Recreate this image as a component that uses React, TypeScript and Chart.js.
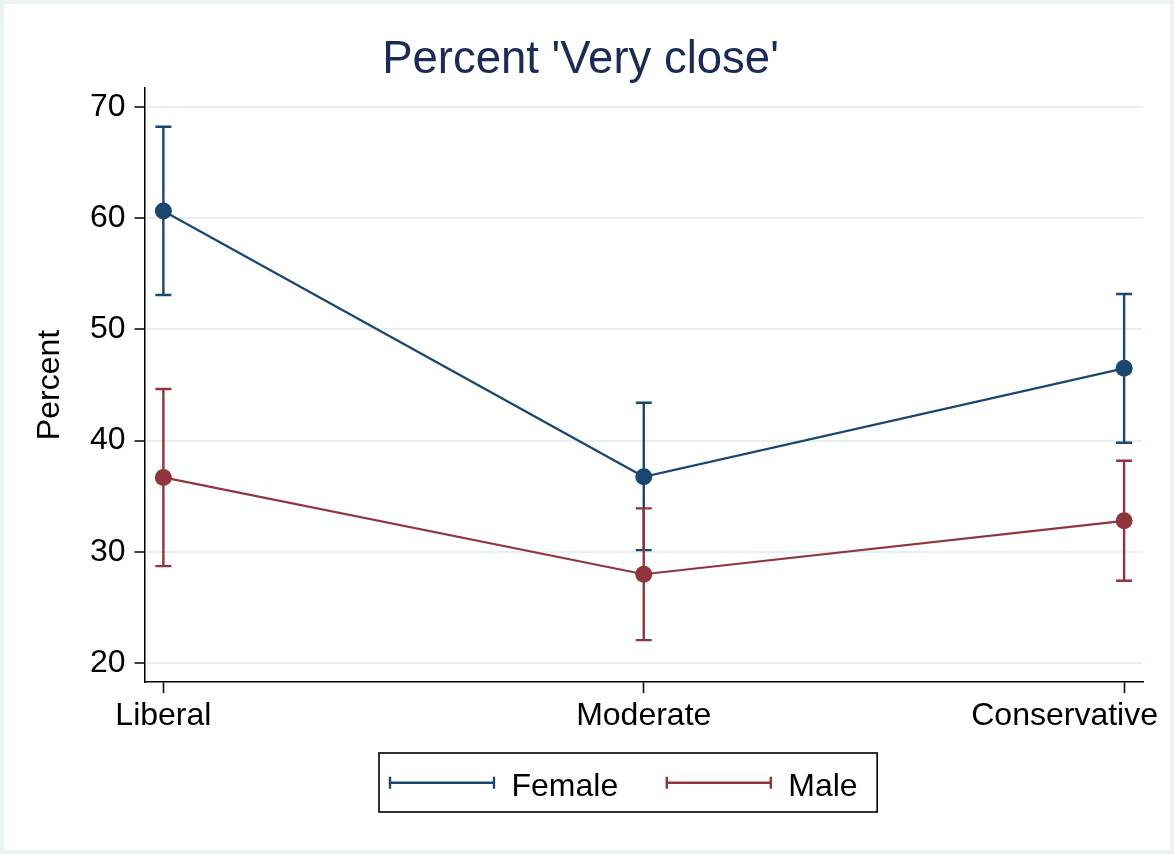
import React, { useEffect, useRef } from "react";
import { Chart, registerables } from "chart.js";

Chart.register(...registerables);

// ---- Data ----
const categories = ["Liberal", "Moderate", "Conservative"];
const seriesNames = ["Female", "Male"];
const femaleMean = [60.63, 36.76, 46.5];
const femaleLower = [53.08, 30.17, 39.81];
const femaleUpper = [68.2, 43.4, 53.17];
const maleMean = [36.7, 28.0, 32.8];
const maleLower = [28.73, 22.08, 27.41];
const maleUpper = [44.64, 33.92, 38.2];
const yTicks = [20, 30, 40, 50, 60, 70];
const chartTitle = "Percent 'Very close'";
const yTitle = "Percent";

// ---- Style ----
const FONT = "'Liberation Sans', Arial, Helvetica, sans-serif";
const NAVY = "#1a476f";
const MAROON = "#90353b";
const GRID = "#e7eff1";
const TITLE_COLOR = "#1b2a56";
const W = 1166;
const H = 846;

const seriesColors = [NAVY, MAROON];
const lowers = [femaleLower, maleLower];
const uppers = [femaleUpper, maleUpper];

const errorBarPlugin = {
  id: "errorBars",
  beforeDatasetsDraw(chart: any) {
    const ctx = chart.ctx;
    const xs = chart.scales.x;
    const ys = chart.scales.y;
    ctx.save();
    for (let s = 0; s < 2; s++) {
      ctx.strokeStyle = seriesColors[s];
      ctx.lineWidth = 2.4;
      ctx.lineCap = "butt";
      for (let i = 0; i < categories.length; i++) {
        const x = xs.getPixelForValue(i);
        const yl = ys.getPixelForValue(lowers[s][i]);
        const yu = ys.getPixelForValue(uppers[s][i]);
        ctx.beginPath();
        ctx.moveTo(x, yl);
        ctx.lineTo(x, yu);
        ctx.moveTo(x - 8, yl);
        ctx.lineTo(x + 8, yl);
        ctx.moveTo(x - 8, yu);
        ctx.lineTo(x + 8, yu);
        ctx.stroke();
      }
    }
    ctx.restore();
  },
};

const decorPlugin = {
  id: "decor",
  afterDraw(chart: any) {
    const ctx = chart.ctx;
    const xs = chart.scales.x;
    ctx.save();
    // Title
    ctx.fillStyle = TITLE_COLOR;
    ctx.font = `45.5px ${FONT}`;
    ctx.textAlign = "center";
    ctx.textBaseline = "alphabetic";
    ctx.fillText(chartTitle, 576.5, 69);

    // X tick labels (kept inside the graph region)
    ctx.fillStyle = "#000";
    ctx.font = `32px ${FONT}`;
    for (let i = 0; i < categories.length; i++) {
      const label = categories[i];
      const w = ctx.measureText(label).width;
      let cx = xs.getPixelForValue(i);
      if (cx + w / 2 > W - 12) cx = W - 12 - w / 2;
      ctx.textAlign = "center";
      ctx.fillText(label, cx, 721);
    }

    // Legend
    ctx.font = `32px ${FONT}`;
    ctx.textAlign = "left";
    const boxLeft = 375;
    const boxTop = 749;
    const boxBottom = 808;
    const symY = 778.7;
    const textY = 792;
    let x = boxLeft + 11;
    for (let s = 0; s < seriesNames.length; s++) {
      ctx.strokeStyle = seriesColors[s];
      ctx.lineWidth = 2.4;
      ctx.beginPath();
      ctx.moveTo(x, symY);
      ctx.lineTo(x + 104, symY);
      ctx.moveTo(x, symY - 6);
      ctx.lineTo(x, symY + 6);
      ctx.moveTo(x + 104, symY - 6);
      ctx.lineTo(x + 104, symY + 6);
      ctx.stroke();
      x += 104 + 17.5;
      ctx.fillStyle = "#000";
      ctx.fillText(seriesNames[s], x, textY);
      x += ctx.measureText(seriesNames[s]).width;
      if (s < seriesNames.length - 1) x += 48.6;
    }
    const boxRight = x + 19.5;
    ctx.strokeStyle = "#000";
    ctx.lineWidth = 1.6;
    ctx.strokeRect(boxLeft, boxTop, boxRight - boxLeft, boxBottom - boxTop);
    ctx.restore();
  },
};

export default function App() {
  const canvasRef = useRef<HTMLCanvasElement | null>(null);

  useEffect(() => {
    document.body.style.margin = "0";
    const canvas = canvasRef.current;
    if (!canvas) return;
    Chart.defaults.font.family = FONT;

    const chart = new Chart(canvas, {
      type: "line",
      data: {
        datasets: [
          {
            label: seriesNames[0],
            data: femaleMean.map((v, i) => ({ x: i, y: v })),
            borderColor: NAVY,
            backgroundColor: NAVY,
            borderWidth: 2.2,
            pointRadius: 8.5,
            pointBorderWidth: 0,
            pointBackgroundColor: NAVY,
            tension: 0,
          },
          {
            label: seriesNames[1],
            data: maleMean.map((v, i) => ({ x: i, y: v })),
            borderColor: MAROON,
            backgroundColor: MAROON,
            borderWidth: 2.2,
            pointRadius: 8.5,
            pointBorderWidth: 0,
            pointBackgroundColor: MAROON,
            tension: 0,
          },
        ],
      },
      options: {
        responsive: false,
        animation: false,
        devicePixelRatio: 1,
        layout: { padding: { left: 30.5, top: 84, right: 27, bottom: 108 } },
        plugins: {
          legend: { display: false },
          title: { display: false },
          tooltip: { enabled: false },
        },
        scales: {
          x: {
            type: "linear",
            min: -0.0393,
            max: 2.0393,
            afterBuildTicks: (s: any) => {
              s.ticks = categories.map((_, i) => ({ value: i }));
            },
            afterFit: (s: any) => {
              s.height = 60;
            },
            grid: {
              drawOnChartArea: false,
              drawTicks: true,
              tickLength: 11,
              tickColor: "#000",
              tickWidth: 1.5,
            },
            border: { display: true, color: "#000", width: 1.5 },
            ticks: { display: false },
          },
          y: {
            type: "linear",
            min: 18.32,
            max: 71.68,
            afterBuildTicks: (s: any) => {
              s.ticks = yTicks.map((v) => ({ value: v }));
            },
            afterFit: (s: any) => {
              s.width = 110;
            },
            grid: {
              color: GRID,
              lineWidth: 2,
              drawTicks: true,
              tickLength: 10,
              tickColor: "#000",
              tickWidth: 1.5,
            },
            border: { display: true, color: "#000", width: 1.5 },
            ticks: {
              color: "#000",
              padding: 9,
              font: { size: 32, family: FONT },
              callback: (v: any) => String(v),
            },
            title: {
              display: true,
              text: yTitle,
              color: "#000",
              padding: 0,
              font: { size: 32, family: FONT, lineHeight: 1.0 },
            },
          },
        },
      },
      plugins: [errorBarPlugin, decorPlugin],
    } as any);

    return () => chart.destroy();
  }, []);

  return (
    <div
      style={{
        width: 1174,
        height: 854,
        boxSizing: "border-box",
        padding: 4,
        background: "#eaf2f3",
      }}
    >
      <div style={{ width: W, height: H, background: "#fff" }}>
        <canvas
          ref={canvasRef}
          width={W}
          height={H}
          style={{ width: W, height: H, display: "block" }}
        />
      </div>
    </div>
  );
}
